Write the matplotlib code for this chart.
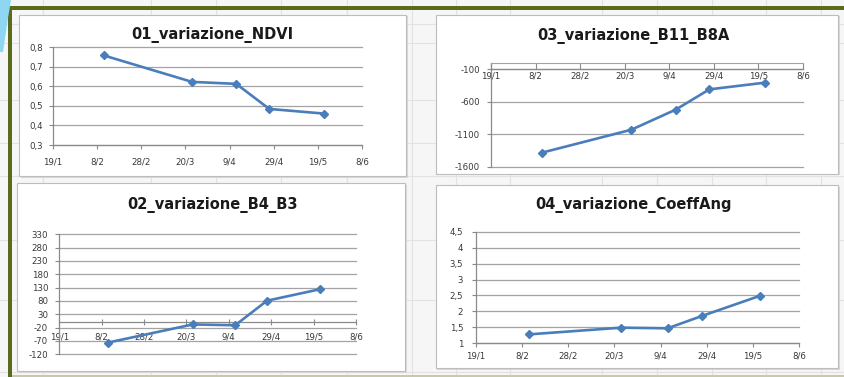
import matplotlib
matplotlib.use("Agg")
import matplotlib.pyplot as plt
import matplotlib.dates as mdates
from matplotlib.patches import Rectangle, Polygon
import numpy as np
import datetime as dt

plt.rcParams["axes.unicode_minus"] = False

# acquisition dates and tick labels
dates = ["2018-02-11", "2018-03-23", "2018-04-12", "2018-04-27", "2018-05-22"]
tick_dates = ["2018-01-19", "2018-02-08", "2018-02-28", "2018-03-20",
              "2018-04-09", "2018-04-29", "2018-05-19", "2018-06-08"]
tick_labels = ["19/1", "8/2", "28/2", "20/3", "9/4", "29/4", "19/5", "8/6"]

# index values per date
ndvi = [0.757, 0.622, 0.612, 0.484, 0.460]
b4_b3 = [-76, -8, -11, 81, 124]
b11_b8a = [-1383, -1031, -720, -410, -307]
coeff_ang = [1.28, 1.49, 1.47, 1.86, 2.49]

titles = ["01_variazione_NDVI", "02_variazione_B4_B3",
          "03_variazione_B11_B8A", "04_variazione_CoeffAng"]

W, H = 844, 377
fig = plt.figure(figsize=(W / 100, H / 100), dpi=100)
fig.patch.set_facecolor("#f6f6f6")


def fx(x):
    return x / W


def fy(y):
    return 1 - y / H


def add_rect(x0, y0, x1, y1, **kw):
    fig.patches.append(Rectangle((fx(x0), fy(y1)), fx(x1) - fx(x0), fy(y0) - fy(y1),
                                 transform=fig.transFigure, **kw))


# faint spreadsheet cell lines in the background
for x in [43, 151, 216, 281, 347, 412, 456, 510, 602, 657, 712, 766, 821]:
    fig.lines.append(plt.Line2D([fx(x), fx(x)], [0, 1], transform=fig.transFigure,
                                color="#e2e2e2", lw=0.8, zorder=0))
for y in [24, 43, 100, 143, 176, 240, 300, 372]:
    fig.lines.append(plt.Line2D([0, 1], [fy(y), fy(y)], transform=fig.transFigure,
                                color="#e2e2e2", lw=0.8, zorder=0))

# slide frame
add_rect(8, 6, 844, 10, facecolor="#5a6b1e", edgecolor="none", zorder=1)
add_rect(8, 6, 12, 377, facecolor="#5a6b1e", edgecolor="none", zorder=1)
add_rect(12, 375, 844, 377, facecolor="#c9c9a4", edgecolor="none", zorder=1)
fig.patches.append(Polygon([(fx(0), fy(0)), (fx(11), fy(0)), (fx(8), fy(18)),
                            (fx(3), fy(52)), (fx(0), fy(52))],
                           closed=True, transform=fig.transFigure,
                           facecolor="#8fd6f2", edgecolor="none", zorder=1))

# chart boxes (x0, y0, x1, y1) in pixels
boxes = [(19, 15, 406, 176), (17, 183, 405, 371), (436, 15, 838, 174), (436, 185, 838, 368)]
for (x0, y0, x1, y1) in boxes:
    add_rect(x0 + 1.5, y0 + 1.5, x1 + 1.5, y1 + 1.5, facecolor="#d8d8d8", edgecolor="none", zorder=1)
    add_rect(x0, y0, x1, y1, facecolor="white", edgecolor="#bdbdbd", lw=0.8, zorder=2)

title_pos = [(212, 35), (212, 205), (633, 36), (633, 205)]
for t, (x, y) in zip(titles, title_pos):
    fig.text(fx(x), fy(y), t, ha="center", va="center", fontsize=10.5,
             fontweight="bold", color="#1a1a1a", zorder=5)

xd = mdates.date2num([dt.date.fromisoformat(d) for d in dates])
xt = mdates.date2num([dt.date.fromisoformat(d) for d in tick_dates])

GRID = "#a3a3a3"
AXC = "#8a8a8a"
LINE = "#4a7ebb"
TXT = "#383838"


def make_axes(left, right, top, bottom):
    ax = fig.add_axes([fx(left), fy(bottom), fx(right) - fx(left), fy(top) - fy(bottom)])
    ax.set_facecolor("none")
    ax.set_zorder(4)
    for s in ["top", "right"]:
        ax.spines[s].set_visible(False)
    for s in ["left", "bottom"]:
        ax.spines[s].set_color(AXC)
        ax.spines[s].set_linewidth(0.9)
    ax.set_xlim(xt[0], xt[-1])
    ax.set_xticks(xt)
    ax.set_xticklabels(tick_labels)
    ax.yaxis.grid(True, color=GRID, lw=0.9)
    ax.set_axisbelow(True)
    ax.tick_params(colors=AXC, labelcolor=TXT, labelsize=6.2, length=3, width=0.8)
    return ax


def finish(ax):
    for g in ax.get_ygridlines():
        g.set_clip_on(False)


def series(ax, vals):
    ax.plot(xd, vals, color=LINE, lw=1.9, marker="D", ms=3.8,
            markerfacecolor=LINE, markeredgecolor=LINE, zorder=6, clip_on=False)


# 01 NDVI
ax1 = make_axes(53, 362, 47, 145)
ax1.set_ylim(0.3, 0.8)
ax1.set_yticks(np.arange(0.3, 0.81, 0.1))
ax1.set_yticklabels(["0,3", "0,4", "0,5", "0,6", "0,7", "0,8"])
ax1.tick_params(axis="x", pad=6)
ax1.tick_params(axis="y", pad=4)
series(ax1, ndvi)

# 02 B4/B3
ax2 = make_axes(59.3, 356, 234.3, 354.3)
ax2.set_ylim(-120, 330)
ax2.set_yticks(np.arange(-120, 331, 50))
ax2.spines["bottom"].set_position(("data", 0))
ax2.tick_params(axis="x", direction="inout", length=4, pad=5)
ax2.tick_params(axis="y", pad=5)
series(ax2, b4_b3)

# 03 B11/B8A
ax3 = make_axes(491, 803, 62.7, 166.7)
ax3.set_ylim(-1600, 0)
ax3.set_yticks(np.arange(-1600, -99, 500))
ax3.spines["top"].set_visible(True)
ax3.spines["top"].set_color(GRID)
ax3.spines["bottom"].set_position(("data", -100))
ax3.tick_params(axis="x", direction="in", length=4, pad=2)
ax3.tick_params(axis="y", pad=5)
series(ax3, b11_b8a)

# 04 CoeffAng
ax4 = make_axes(475.7, 799.3, 231.7, 343.3)
ax4.set_ylim(1, 4.5)
ax4.set_yticks(np.arange(1, 4.51, 0.5))
ax4.set_yticklabels(["1", "1,5", "2", "2,5", "3", "3,5", "4", "4,5"])
ax4.tick_params(axis="x", pad=3)
ax4.tick_params(axis="y", pad=6)
series(ax4, coeff_ang)

for ax in (ax1, ax2, ax3, ax4):
    finish(ax)

fig.savefig("out.png", dpi=100, facecolor=fig.get_facecolor())
